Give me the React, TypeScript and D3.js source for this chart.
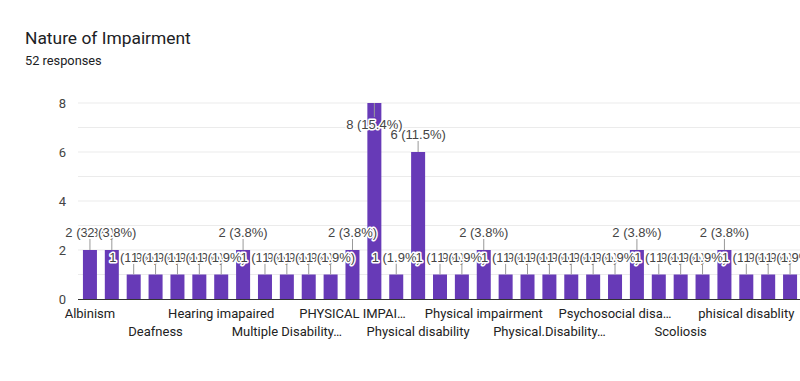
import React from "react";
import * as d3 from "d3";

const categories: string[] = [
  "Albinism", "Blindness", "Cerebral palsy", "Deafness", "Dwarfism", "Epilepsy",
  "Hearing imapaired", "Hearing impairment", "Low vision", "Multiple Disability…",
  "None", "Paraplegia", "PHYSICAL IMPAI…", "Physical Disability", "Physical challenge",
  "Physical disability", "Physical handicap", "Physical impaired", "Physical impairment",
  "Physical injury", "Physical.", "Physical.Disability…", "Polio", "Psychiatric",
  "Psychosocial disa…", "Psychosocial impairment", "Quadriplegia", "Scoliosis",
  "Spina bifida", "Visual impairment", "phisical disablity", "physical", "physically challenged",
];
const values: number[] = [
  2, 2, 1, 1, 1, 1, 1, 2, 1, 1, 1, 1, 2, 8, 1, 6, 1, 1, 2, 1, 1, 1, 1, 1, 1, 2, 1, 1, 1, 2, 1, 1, 1,
];
const shownLabelIdx: number[] = [0, 3, 6, 9, 12, 15, 18, 21, 24, 27, 30];
const yTicks: number[] = [0, 2, 4, 6, 8];
const gridTicks: number[] = [1, 2, 3, 4, 5, 6, 7, 8];
const totalResponses = 52;

const W = 800;
const H = 381;
const plotLeft = 79;
const plotRight = 801;
const plotTop = 103;
const plotBottom = 299;
const FONT = "Roboto, Arial, sans-serif";
const ANN_FONT = "'Liberation Sans', Arial, sans-serif";

export default function App() {
  const x = d3.scaleBand<number>()
    .domain(d3.range(categories.length))
    .range([plotLeft, plotRight])
    .paddingInner(0.36)
    .paddingOuter(0.18);
  const y = d3.scaleLinear().domain([0, 8]).range([plotBottom, plotTop]);
  const total = d3.sum(values);
  const fmt = (v: number) => `${v} (${((v / total) * 100).toFixed(1)}%)`;
  const minLabelY = 129;

  return (
    <svg width={W} height={H} style={{ position: "absolute", left: 0, top: 0, background: "#fff" }}>
      <text x={25} y={44} fontFamily={FONT} fontSize={17.4} fill="#202124">Nature of Impairment</text>
      <text x={25} y={65} fontFamily={FONT} fontSize={12.8} fill="#202124">{totalResponses} responses</text>

      {gridTicks.map((t) => (
        <line key={"g" + t} x1={plotLeft - 1} x2={W} y1={y(t)} y2={y(t)} stroke="#ebebeb" strokeWidth={1} />
      ))}
      {yTicks.map((t) => (
        <text key={"yt" + t} x={66} y={y(t) + 4.5} textAnchor="end" fontFamily={FONT} fontSize={13} fill="#444">{t}</text>
      ))}

      {values.map((v, i) => (
        <rect key={"b" + i} x={x(i)!} y={y(v)} width={x.bandwidth()} height={y(0) - y(v)} fill="#673ab7" />
      ))}
      <line x1={plotLeft - 1} x2={W} y1={plotBottom + 0.5} y2={plotBottom + 0.5} stroke="#333" strokeWidth={1} />

      {values.map((v, i) => {
        const cx = x(i)! + x.bandwidth() / 2;
        const top = y(v);
        let ly = top - 13;
        const s1 = top;
        let s2 = top - 11;
        if (ly < minLabelY) {
          ly = minLabelY;
          s2 = ly - 12;
        }
        return (
          <g key={"a" + i}>
            <line x1={cx} x2={cx} y1={s1} y2={s2} stroke="#999" strokeWidth={1} />
            <text x={cx} y={ly} textAnchor="middle" fontFamily={ANN_FONT} fontSize={13} fill="#444"
              stroke="#fff" strokeWidth={3} paintOrder="stroke" strokeLinejoin="round">{fmt(v)}</text>
          </g>
        );
      })}

      {shownLabelIdx.map((i, k) => {
        const cx = x(i)! + x.bandwidth() / 2;
        return (
          <text key={"xl" + i} x={cx} y={k % 2 === 0 ? 318 : 336} textAnchor="middle" fontFamily={FONT} fontSize={13} fill="#222">
            {categories[i]}
          </text>
        );
      })}
    </svg>
  );
}
